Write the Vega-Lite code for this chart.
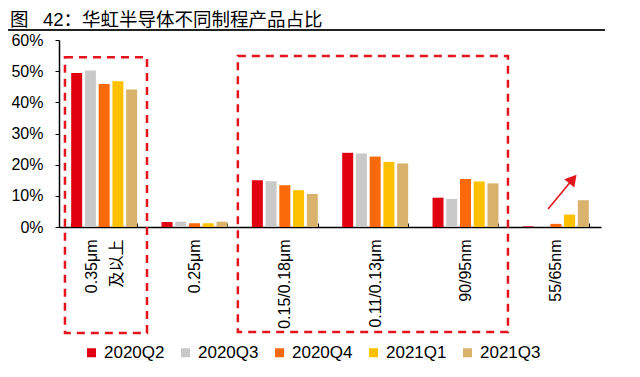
{
  "$schema": "https://vega.github.io/schema/vega-lite/v6.json",
  "width": 542,
  "height": 187,
  "autosize": {"type": "none"},
  "padding": {"left": 59, "top": 40, "right": 39, "bottom": 150},
  "background": "white",
  "title": {
    "text": "图\u2002 42：华虹半导体不同制程产品占比",
    "anchor": "start",
    "frame": "group",
    "dx": -49,
    "offset": 0,
    "fontSize": 18.5,
    "font": "Liberation Sans, Noto Sans CJK SC",
    "fontWeight": "normal",
    "color": "#000000"
  },
  "config": {
    "view": {"stroke": null},
    "axis": {
      "domainColor": "#000000",
      "tickColor": "#000000",
      "labelColor": "#000000",
      "grid": false,
      "labelFont": "Liberation Sans, Noto Sans CJK SC",
      "labelFontSize": 16,
      "labelOverlap": false
    },
    "legend": {
      "labelFont": "Liberation Sans",
      "labelFontSize": 17,
      "labelColor": "#000000"
    }
  },
  "datasets": {
    "bars": [
      {"process": "0.35μm及以上", "quarter": "2020Q2", "value": 0.494},
      {"process": "0.35μm及以上", "quarter": "2020Q3", "value": 0.502},
      {"process": "0.35μm及以上", "quarter": "2020Q4", "value": 0.459},
      {"process": "0.35μm及以上", "quarter": "2021Q1", "value": 0.468},
      {"process": "0.35μm及以上", "quarter": "2021Q3", "value": 0.441},
      {"process": "0.25μm", "quarter": "2020Q2", "value": 0.016},
      {"process": "0.25μm", "quarter": "2020Q3", "value": 0.017},
      {"process": "0.25μm", "quarter": "2020Q4", "value": 0.012},
      {"process": "0.25μm", "quarter": "2021Q1", "value": 0.012},
      {"process": "0.25μm", "quarter": "2021Q3", "value": 0.017},
      {"process": "0.15/0.18μm", "quarter": "2020Q2", "value": 0.150},
      {"process": "0.15/0.18μm", "quarter": "2020Q3", "value": 0.147},
      {"process": "0.15/0.18μm", "quarter": "2020Q4", "value": 0.134},
      {"process": "0.15/0.18μm", "quarter": "2021Q1", "value": 0.118},
      {"process": "0.15/0.18μm", "quarter": "2021Q3", "value": 0.106},
      {"process": "0.11/0.13μm", "quarter": "2020Q2", "value": 0.238},
      {"process": "0.11/0.13μm", "quarter": "2020Q3", "value": 0.236},
      {"process": "0.11/0.13μm", "quarter": "2020Q4", "value": 0.226},
      {"process": "0.11/0.13μm", "quarter": "2021Q1", "value": 0.209},
      {"process": "0.11/0.13μm", "quarter": "2021Q3", "value": 0.204},
      {"process": "90/95nm", "quarter": "2020Q2", "value": 0.094},
      {"process": "90/95nm", "quarter": "2020Q3", "value": 0.090},
      {"process": "90/95nm", "quarter": "2020Q4", "value": 0.154},
      {"process": "90/95nm", "quarter": "2021Q1", "value": 0.146},
      {"process": "90/95nm", "quarter": "2021Q3", "value": 0.140},
      {"process": "55/65nm", "quarter": "2020Q2", "value": 0.002},
      {"process": "55/65nm", "quarter": "2020Q3", "value": 0.0},
      {"process": "55/65nm", "quarter": "2020Q4", "value": 0.010},
      {"process": "55/65nm", "quarter": "2021Q1", "value": 0.040},
      {"process": "55/65nm", "quarter": "2021Q3", "value": 0.086}
    ],
    "boxes": [
      {"x0": 0.066, "x1": 0.974, "y0": -0.34, "y1": 0.545},
      {"x0": 1.98, "x1": 4.97, "y0": -0.337, "y1": 0.549}
    ],
    "underline": [
      {"x0": -0.564, "x1": 6.044, "y": 0.632}
    ],
    "arrow": [
      {"x0": 5.414, "y0": 0.058, "x1": 5.689, "y1": 0.154}
    ]
  },
  "layer": [
    {
      "data": {"name": "bars"},
      "mark": {"type": "bar", "clip": false},
      "encoding": {
        "x": {
          "field": "process",
          "type": "nominal",
          "sort": null,
          "scale": {"paddingInner": 0.27, "paddingOuter": 0.135},
          "axis": {
            "title": null,
            "labelAngle": -90,
            "labelExpr": "datum.value == '0.35μm及以上' ? ['0.35μm', '及以上'] : datum.label",
            "labelLineHeight": 25,
            "labelOffset": {"condition": {"test": "datum.value == '0.35μm及以上'", "value": -13}, "value": 0},
            "tickBand": "extent",
            "tickSize": -4,
            "labelPadding": 16,
            "domainWidth": 1.5
          }
        },
        "xOffset": {
          "field": "quarter",
          "type": "nominal",
          "sort": null,
          "scale": {"paddingInner": 0.2}
        },
        "y": {
          "field": "value",
          "type": "quantitative",
          "scale": {"domain": [0, 0.6], "nice": false},
          "axis": {
            "title": null,
            "format": ".0%",
            "values": [0, 0.1, 0.2, 0.3, 0.4, 0.5, 0.6],
            "tickSize": 4,
            "labelPadding": 12,
            "labelOverlap": false,
            "domainWidth": 1.5
          }
        },
        "color": {
          "field": "quarter",
          "type": "nominal",
          "sort": null,
          "scale": {
            "domain": ["2020Q2", "2020Q3", "2020Q4", "2021Q1", "2021Q3"],
            "range": ["#E10010", "#C9C9C9", "#FA6A0A", "#FFC000", "#D9B26B"]
          },
          "legend": {
            "title": null,
            "orient": "none",
            "direction": "horizontal",
            "legendX": 24,
            "legendY": 304,
            "symbolType": "square",
            "symbolSize": 81,
            "symbolStrokeWidth": 0,
            "labelOffset": 4,
            "columnPadding": 12
          }
        }
      }
    },
    {
      "data": {"name": "boxes"},
      "mark": {"type": "rect", "clip": false, "fill": "transparent", "stroke": "#E3141B", "strokeWidth": 2.5, "strokeDash": [8, 6]},
      "encoding": {
        "x": {"field": "x0", "type": "quantitative", "scale": {"domain": [0, 6], "nice": false, "zero": false}, "axis": null},
        "x2": {"field": "x1"},
        "y": {"field": "y0", "type": "quantitative", "scale": {"domain": [0, 0.6], "nice": false},
          "axis": {"title": null, "format": ".0%", "values": [0, 0.1, 0.2, 0.3, 0.4, 0.5, 0.6], "tickSize": 4, "labelPadding": 12, "labelOverlap": false, "domainWidth": 1.5}},
        "y2": {"field": "y1"}
      }
    },
    {
      "data": {"name": "underline"},
      "mark": {"type": "rule", "clip": false, "color": "#222222", "strokeWidth": 2},
      "encoding": {
        "x": {"field": "x0", "type": "quantitative", "scale": {"domain": [0, 6], "nice": false, "zero": false}, "axis": null},
        "x2": {"field": "x1"},
        "y": {"field": "y", "type": "quantitative", "scale": {"domain": [0, 0.6], "nice": false},
          "axis": {"title": null, "format": ".0%", "values": [0, 0.1, 0.2, 0.3, 0.4, 0.5, 0.6], "tickSize": 4, "labelPadding": 12, "labelOverlap": false, "domainWidth": 1.5}}
      }
    },
    {
      "data": {"name": "arrow"},
      "mark": {"type": "rule", "clip": false, "color": "#E3141B", "strokeWidth": 1.6},
      "encoding": {
        "x": {"field": "x0", "type": "quantitative", "scale": {"domain": [0, 6], "nice": false, "zero": false}, "axis": null},
        "x2": {"field": "x1"},
        "y": {"field": "y0", "type": "quantitative", "scale": {"domain": [0, 0.6], "nice": false},
          "axis": {"title": null, "format": ".0%", "values": [0, 0.1, 0.2, 0.3, 0.4, 0.5, 0.6], "tickSize": 4, "labelPadding": 12, "labelOverlap": false, "domainWidth": 1.5}},
        "y2": {"field": "y1"}
      }
    },
    {
      "data": {"name": "arrow"},
      "mark": {"type": "point", "clip": false, "shape": "triangle-up", "filled": true, "color": "#E3141B", "size": 170, "angle": 40, "opacity": 1},
      "encoding": {
        "x": {"field": "x1", "type": "quantitative", "scale": {"domain": [0, 6], "nice": false, "zero": false}, "axis": null},
        "y": {"field": "y1", "type": "quantitative", "scale": {"domain": [0, 0.6], "nice": false},
          "axis": {"title": null, "format": ".0%", "values": [0, 0.1, 0.2, 0.3, 0.4, 0.5, 0.6], "tickSize": 4, "labelPadding": 12, "labelOverlap": false, "domainWidth": 1.5}}
      }
    }
  ],
  "resolve": {"scale": {"x": "independent"}, "axis": {"x": "independent"}}
}
